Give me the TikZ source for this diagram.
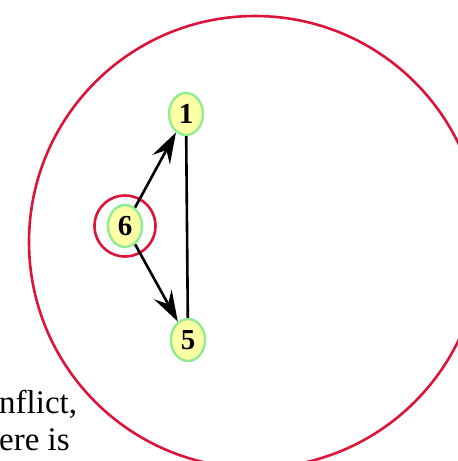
\documentclass[tikz,border=0pt]{standalone}
\usepackage{fontspec}
\setmainfont{Liberation Serif}
\usepackage{tikz}
\usetikzlibrary{
    shapes.geometric,
    arrows.meta
}
\definecolor{Cring}{RGB}{220, 20, 60}
\definecolor{Vedge}{RGB}{144, 238, 144}
\definecolor{Vfill}{RGB}{255, 255, 165}
\tikzset{
    vnode/.style={
        ellipse, draw=Vedge, line width=2.4pt, fill=Vfill, text=black,
        minimum width=34pt, minimum height=42pt, inner sep=0pt,
        font=\fontsize{29}{30}\selectfont\bfseries
    },
    cring/.style={draw=Cring, line width=2.6pt},
    varr/.style={-{Stealth[length=31pt, width=20pt, inset=11pt]}, line width=2.6pt, black},
    vline/.style={line width=2.6pt, black},
}

\begin{document}
\begin{tikzpicture}[x=1pt, y=-1pt]

    % ── 画布 ─────────────────────────────────────────
    \useasboundingbox (0,0) rectangle (458,461);
    \clip (0,0) rectangle (458,461);

    % ── 顶点 ─────────────────────────────────────────
    \node [vnode] (v1) at (186,114) {1};
    \node [vnode] (v6) at (125,226) {6};
    \node [vnode] (v5) at (188,340) {5};

    % ── 红色圆环 ─────────────────────────────────────
    \draw [cring] (255,242) circle (226);
    \draw [cring] (v6.center) circle (30.5);

    % ── 边 ───────────────────────────────────────────
    \draw [varr] (v6) -- (v1);
    \draw [varr] (v6) -- (v5);
    \draw [vline] (v1) -- (v5);

    % ── 左下角残留文字 ───────────────────────────────
    \node [anchor=base west, align=left, inner sep=0pt,
           font=\fontsize{33}{37}\selectfont]
        (txt) at (-1,450) {nflict,\\ere is};

\end{tikzpicture}
\end{document}
